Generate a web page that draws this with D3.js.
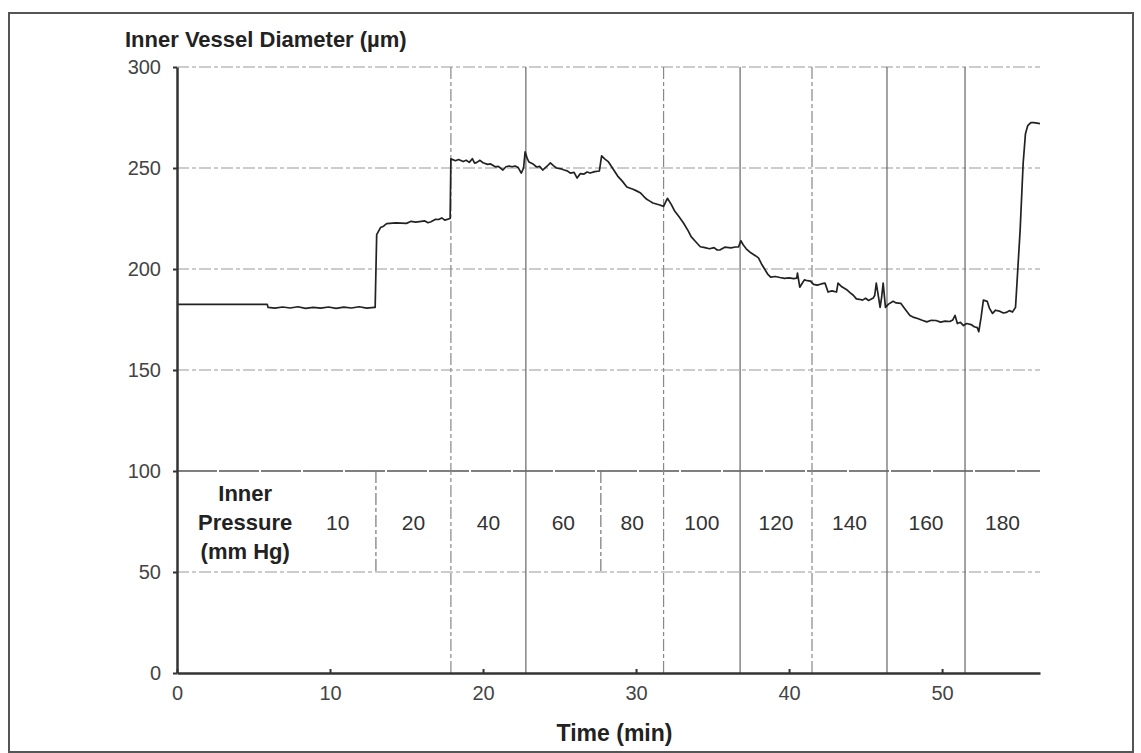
<!DOCTYPE html>
<html>
<head>
<meta charset="utf-8">
<script src="https://cdn.jsdelivr.net/npm/d3@7"></script>
<style>
  body { margin: 0; background: #fff; }
  svg { display: block; font-family: "Liberation Sans", Arial, Helvetica, sans-serif; }
</style>
</head>
<body>
<svg id="chart" width="1141" height="753"></svg>
<script>
// diameter trace, [time (min), inner diameter (µm)]
const diameterTrace = [
	[0, 182.5], [5.9, 182.5], [5.95, 181.0], [6.4, 180.6], [6.9, 181.2], [7.4, 180.7],
	[7.9, 181.3], [8.4, 180.5], [8.9, 181.0], [9.4, 180.6], [9.9, 181.2], [10.4, 180.5],
	[10.9, 181.1], [11.4, 180.7], [11.9, 181.3], [12.4, 180.6], [12.9, 181.0], [12.95, 181.0],
	[13.05, 217], [13.3, 220.5], [13.5, 221.2], [13.7, 222.5], [14.3, 222.8], [15.0, 222.6],
	[15.3, 223.6], [15.6, 223.2], [16.2, 223.8], [16.4, 222.9], [16.6, 223.4], [16.9, 224.6],
	[17.1, 224.5], [17.3, 225.3], [17.5, 224.2], [17.85, 225],
	[17.9, 254.5], [18.2, 253.6], [18.4, 254.2], [18.7, 253.2], [18.9, 253.8], [19.1, 252.8],
	[19.3, 254.6], [19.45, 252.4], [19.6, 252.8], [19.8, 253.8], [20.0, 252.6], [20.3, 251.8],
	[20.5, 252.0], [20.8, 250.6], [21.0, 250.8], [21.3, 249], [21.5, 250.6], [21.7, 251],
	[21.9, 250.6], [22.1, 251], [22.3, 250.2], [22.5, 247.5], [22.65, 250], [22.75, 258],
	[22.9, 254.5], [23.0, 253], [23.3, 251.8], [23.5, 250.5], [23.7, 250.8], [23.9, 249],
	[24.2, 251], [24.4, 252.5], [24.6, 251.2], [24.8, 250], [25.1, 249.6], [25.3, 249],
	[25.5, 248.6], [25.7, 247.5], [25.95, 247.8], [26.15, 245], [26.35, 247.2], [26.6, 247],
	[26.8, 248], [27.0, 247.5], [27.3, 248.2], [27.6, 248.5], [27.75, 256], [27.95, 254.5],
	[28.2, 253], [28.5, 249.5], [28.8, 246], [29.1, 243.5], [29.4, 240.6], [29.8, 239.5],
	[30.0, 238.8], [30.3, 237.6], [30.5, 236], [30.7, 234.5], [30.9, 233.6], [31.1, 232.7],
	[31.5, 231.8], [31.8, 231], [32.05, 235], [32.3, 232], [32.5, 229], [32.8, 226],
	[33.1, 222.8], [33.4, 219], [33.6, 216], [33.9, 213.5], [34.2, 211], [34.5, 210.6],
	[34.8, 210], [35.1, 210.6], [35.3, 209.4], [35.5, 209.5], [35.8, 210.8], [36.2, 210.5],
	[36.5, 210.9], [36.7, 211], [36.85, 214], [37.0, 212], [37.2, 210], [37.5, 208],
	[37.8, 206.6], [38.0, 205.5], [38.2, 202.5], [38.4, 200], [38.6, 197.5], [38.8, 196],
	[39.1, 196.3], [39.4, 195.8], [39.7, 195.4], [40.0, 195.6], [40.3, 195.2], [40.5, 195.5],
	[40.55, 198], [40.7, 191], [40.85, 192.8], [41.0, 194.6], [41.2, 194.2], [41.4, 194],
	[41.6, 192.4], [41.85, 192], [42.1, 192.6], [42.35, 193], [42.55, 188.6], [42.8, 189.2],
	[43.1, 188.6], [43.2, 193], [43.45, 191.2], [43.8, 189.6], [44.0, 188.2], [44.2, 187],
	[44.4, 185.2], [44.6, 185], [44.8, 184.6], [45.0, 185.5], [45.2, 184.4], [45.5, 185.6],
	[45.6, 187], [45.7, 193], [45.85, 186], [45.95, 181], [46.05, 186], [46.15, 193],
	[46.3, 181], [46.5, 182.6], [46.8, 184], [47.0, 183.2], [47.3, 183], [47.6, 180],
	[47.9, 177], [48.1, 176.2], [48.4, 175.5], [48.7, 174.6], [49.0, 173.8], [49.3, 174.6],
	[49.6, 174.5], [49.9, 173.7], [50.2, 174.2], [50.5, 174.0], [50.7, 174.8], [50.85, 177],
	[51.0, 173], [51.2, 173.6], [51.4, 172], [51.6, 173.0], [51.9, 172.5], [52.1, 171.4],
	[52.3, 171], [52.4, 169], [52.55, 176], [52.7, 184.6], [52.95, 184], [53.1, 180.5],
	[53.3, 178], [53.5, 179.6], [53.8, 179], [54.0, 178.2], [54.2, 178.5], [54.4, 179.4],
	[54.6, 178.7], [54.8, 181], [54.95, 200], [55.1, 219], [55.3, 252.5], [55.45, 267],
	[55.6, 271], [55.8, 272.5], [56.0, 272.5], [56.4, 272]
];

// pressure steps: label and start time (min) of each step
const pressureLabels = ["10", "20", "40", "60", "80", "100", "120", "140", "160", "180"];
const stepStarts = [0, 13.0, 17.9, 22.8, 27.7, 31.8, 36.8, 41.5, 46.4, 51.5];
const runEnd = 56.4;
// step boundaries that only run through the pressure table
const tableOnlyBounds = [13.0, 27.7];
// step boundaries drawn as plain lines (the rest are dash-dot)
const solidBounds = [22.8, 36.8, 46.4, 51.5];
const headingEnd = 8.0; // end of the "Inner Pressure" heading column (min)

const xTicks = [0, 10, 20, 30, 40, 50];
const yTicks = [0, 50, 100, 150, 200, 250, 300];
const tableBand = [50, 100];

const svg = d3.select("#chart");

// outer frame
svg.append("rect")
	.attr("x", 9).attr("y", 13)
	.attr("width", 1124).attr("height", 739)
	.attr("fill", "none")
	.attr("stroke", "#555")
	.attr("stroke-width", 2);

let x = d3.scaleLinear().domain([0, runEnd]).range([177, 1040]);
let y = d3.scaleLinear().domain([0, 300]).range([673, 67]);

const dashed = "12,3,4,3";

// horizontal grid
svg.append("g")
	.selectAll("line")
	.data(yTicks.filter(d => d > 0))
	.join("line")
	.attr("x1", x(0)).attr("x2", x(runEnd))
	.attr("y1", d => y(d)).attr("y2", d => y(d))
	.attr("stroke", d => d === tableBand[1] ? "#555" : "#999")
	.attr("stroke-width", d => d === tableBand[1] ? 1.3 : 1)
	.attr("stroke-dasharray", d => d === tableBand[1] ? "40,2" : dashed);

// vertical grid at the pressure steps
let fullBounds = stepStarts.slice(1).filter(d => !tableOnlyBounds.includes(d));
svg.append("g")
	.selectAll("line")
	.data(fullBounds)
	.join("line")
	.attr("x1", d => x(d)).attr("x2", d => x(d))
	.attr("y1", y(300)).attr("y2", y(0))
	.attr("stroke", d => solidBounds.includes(d) ? "#666" : "#888")
	.attr("stroke-width", 1.2)
	.attr("stroke-dasharray", d => solidBounds.includes(d) ? "none" : dashed);

svg.append("g")
	.selectAll("line")
	.data(tableOnlyBounds)
	.join("line")
	.attr("x1", d => x(d)).attr("x2", d => x(d))
	.attr("y1", y(tableBand[1])).attr("y2", y(tableBand[0]))
	.attr("stroke", "#777")
	.attr("stroke-width", 1.2)
	.attr("stroke-dasharray", dashed);

// pressure table text
let midY = y((tableBand[0] + tableBand[1]) / 2);
let heading = svg.append("text")
	.attr("text-anchor", "middle")
	.attr("font-weight", "bold")
	.attr("font-size", 22)
	.attr("fill", "#222");
["Inner", "Pressure", "(mm Hg)"].forEach((t, i) => {
	heading.append("tspan")
		.attr("x", x(headingEnd / 2) + 7)
		.attr("y", midY + (i - 1) * 29 + 8)
		.text(t);
});

svg.append("g")
	.selectAll("text")
	.data(pressureLabels)
	.join("text")
	.attr("x", (d, i) => {
		let a = i === 0 ? headingEnd : stepStarts[i];
		let b = i + 1 < stepStarts.length ? stepStarts[i + 1] : runEnd;
		return x((a + b) / 2);
	})
	.attr("y", midY + 8)
	.attr("text-anchor", "middle")
	.attr("font-size", 21)
	.attr("fill", "#333")
	.text(d => d);

// the diameter trace
let line = d3.line()
	.x(d => x(d[0]))
	.y(d => y(d[1]));

svg.append("path")
	.datum(diameterTrace)
	.attr("fill", "none")
	.attr("stroke", "#222")
	.attr("stroke-width", 1.7)
	.attr("stroke-linejoin", "round")
	.attr("d", line);

// axes
let yAxis = svg.append("g")
	.attr("transform", `translate(${x(0)},0)`)
	.call(d3.axisLeft(y).tickValues(yTicks).tickSize(4).tickSizeOuter(0).tickPadding(12));

let xAxis = svg.append("g")
	.attr("transform", `translate(0,${y(0)})`)
	.call(d3.axisBottom(x).tickValues(xTicks).tickSize(-4).tickSizeOuter(0).tickPadding(13));

[yAxis, xAxis].forEach(g => {
	g.select(".domain").attr("stroke", "#333").attr("stroke-width", 2.5);
	g.selectAll(".tick line").attr("stroke", "#333").attr("stroke-width", 2);
	g.selectAll(".tick text")
		.attr("font-family", "Liberation Sans, Arial, sans-serif")
		.attr("font-size", 20)
		.attr("fill", "#444");
});

// titles
svg.append("text")
	.attr("x", 125).attr("y", 47)
	.attr("font-weight", "bold")
	.attr("font-size", 22)
	.attr("fill", "#222")
	.text("Inner Vessel Diameter (µm)");

svg.append("text")
	.attr("x", (x(0) + x(runEnd)) / 2 + 6)
	.attr("y", 741)
	.attr("text-anchor", "middle")
	.attr("font-weight", "bold")
	.attr("font-size", 23)
	.attr("fill", "#222")
	.text("Time (min)");
</script>
</body>
</html>
